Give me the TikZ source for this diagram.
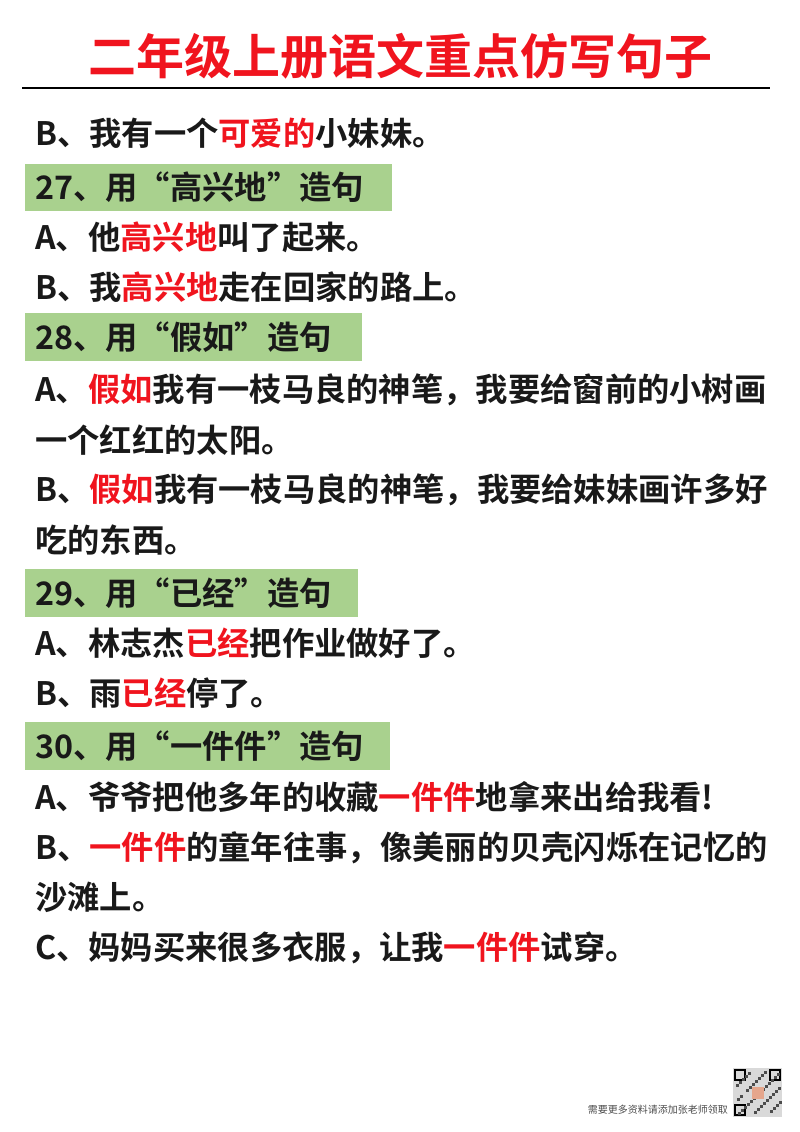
\documentclass[tikz,border=0pt]{standalone}
\usepackage{fontspec}
\setmainfont{Noto Sans CJK SC Bold}
\newfontfamily\footfont{Noto Sans CJK SC}
\definecolor{hl}{HTML}{A9D18E}
\definecolor{rd}{HTML}{F0141E}
\begin{document}
\begin{tikzpicture}[x=1pt,y=-1pt,
  ln/.style={anchor=west,inner sep=0,font=\fontsize{32.3}{32}\selectfont,text=black!90},
  gb/.style={fill=hl,draw=none}]
\useasboundingbox (0,0) rectangle (800,1132);
\newcommand\R[1]{\textcolor{rd}{#1}}
\node[inner sep=0,text=rd,font=\fontsize{48}{48}\selectfont] (title) at (400,56) {二年级上册语文重点仿写句子};
\draw[line width=1.2pt] (22,88) -- (770,88);
\fill[gb] (25,164) rectangle (392,211);
\fill[gb] (25,313) rectangle (362,361);
\fill[gb] (25,569) rectangle (358,617);
\fill[gb] (25,722) rectangle (390,770);
\node[ln] (l1) at (35,133) {B、我有一个\R{可爱的}小妹妹。};
\node[ln] (h27) at (35,187) {27、用“高兴地”造句};
\node[ln] (l2) at (35,237) {A、他\R{高兴地}叫了起来。};
\node[ln] (l3) at (35,287) {B、我\R{高兴地}走在回家的路上。};
\node[ln] (h28) at (35,337) {28、用“假如”造句};
\node[ln] (l4) at (35,390) {A、\R{假如}我有一枝马良的神笔，我要给窗前的小树画};
\node[ln] (l5) at (35,440) {一个红红的太阳。};
\node[ln] (l6) at (35,490) {B、\R{假如}我有一枝马良的神笔，我要给妹妹画许多好};
\node[ln] (l7) at (35,540) {吃的东西。};
\node[ln] (h29) at (35,593) {29、用“已经”造句};
\node[ln] (l8) at (35,643) {A、林志杰\R{已经}把作业做好了。};
\node[ln] (l9) at (35,693) {B、雨\R{已经}停了。};
\node[ln] (h30) at (35,746) {30、用“一件件”造句};
\node[ln] (l10) at (35,797) {A、爷爷把他多年的收藏\R{一件件}地拿来出给我看!};
\node[ln] (l11) at (35,848) {B、\R{一件件}的童年往事，像美丽的贝壳闪烁在记忆的};
\node[ln] (l12) at (35,897) {沙滩上。};
\node[ln] (l13) at (35,948) {C、妈妈买来很多衣服，让我\R{一件件}试穿。};
\node[anchor=east,inner sep=0,font=\footfont\fontsize{10}{10}\selectfont,text=black!70] (ft) at (728,1110) {需要更多资料请添加张老师领取};
\fill[black!15] (733,1068) rectangle (782,1117);
\foreach \x/\y in {735/1070,770/1070,735/1105}{\draw[line width=2pt] (\x,\y) rectangle ++(10,10);}
\foreach \i in {1,...,40}{\pgfmathsetmacro\a{735+mod(\i*37,45)}\pgfmathsetmacro\b{1070+mod(\i*23,45)}\fill[black!70] (\a,\b) rectangle ++(3,3);}
\fill[pink!60!brown] (752,1087) rectangle ++(12,12);
\end{tikzpicture}
\end{document}
